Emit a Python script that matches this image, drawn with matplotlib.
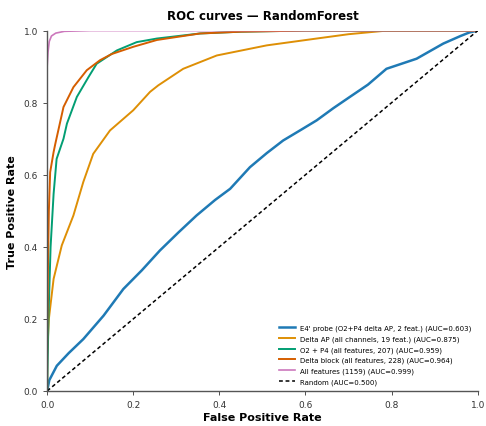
import matplotlib.pyplot as plt
import numpy as np

# ROC points (FPR, TPR)
probe_fpr = [0, 0.005, 0.0225, 0.05, 0.084, 0.131, 0.177, 0.22, 0.262, 0.305, 0.347, 0.39,
             0.425, 0.471, 0.51, 0.548, 0.59, 0.626, 0.665, 0.703, 0.745, 0.788, 0.858,
             0.92, 0.96, 0.981, 1.0]
probe_tpr = [0, 0.03, 0.07, 0.105, 0.144, 0.209, 0.283, 0.335, 0.39, 0.44, 0.487, 0.53,
             0.561, 0.621, 0.66, 0.695, 0.725, 0.751, 0.785, 0.816, 0.85, 0.894, 0.922,
             0.964, 0.985, 0.995, 1.0]

deltaap_fpr = [0, 0.0, 0.004, 0.015, 0.034, 0.061, 0.084, 0.107, 0.146, 0.2, 0.239, 0.258,
               0.316, 0.394, 0.51, 0.626, 0.7, 0.78, 1.0]
deltaap_tpr = [0, 0.1, 0.2, 0.311, 0.404, 0.487, 0.58, 0.658, 0.723, 0.779, 0.83, 0.848,
               0.894, 0.931, 0.959, 0.978, 0.99, 0.999, 1.0]

o2p4_fpr = [0, 0.003, 0.008, 0.015, 0.022, 0.026, 0.038, 0.046, 0.069, 0.096, 0.115, 0.162,
            0.208, 0.255, 0.355, 0.45, 0.6, 1.0]
o2p4_tpr = [0, 0.2, 0.4, 0.547, 0.644, 0.658, 0.7, 0.742, 0.816, 0.871, 0.908, 0.945,
            0.968, 0.978, 0.992, 0.997, 1.0, 1.0]

delta_fpr = [0, 0.0, 0.002, 0.004, 0.007, 0.015, 0.019, 0.038, 0.061, 0.092, 0.123, 0.15,
             0.2, 0.255, 0.355, 0.45, 0.6, 1.0]
delta_tpr = [0, 0.1, 0.35, 0.5, 0.607, 0.663, 0.686, 0.788, 0.843, 0.89, 0.918, 0.935,
             0.955, 0.974, 0.992, 0.997, 1.0, 1.0]

all_fpr = [0, 0.0, 0.002, 0.005, 0.01, 0.02, 0.04, 0.1, 1.0]
all_tpr = [0, 0.9, 0.94, 0.97, 0.985, 0.993, 0.998, 1.0, 1.0]

labels = [
    "E4' probe (O2+P4 delta AP, 2 feat.) (AUC=0.603)",
    "Delta AP (all channels, 19 feat.) (AUC=0.875)",
    "O2 + P4 (all features, 207) (AUC=0.959)",
    "Delta block (all features, 228) (AUC=0.964)",
    "All features (1159) (AUC=0.999)",
]
colors = ["#1f7ab5", "#de8f05", "#029e73", "#d55e00", "#cc78bc"]
widths = [1.8, 1.4, 1.4, 1.4, 1.2]

curves = [
    (probe_fpr, probe_tpr),
    (deltaap_fpr, deltaap_tpr),
    (o2p4_fpr, o2p4_tpr),
    (delta_fpr, delta_tpr),
    (all_fpr, all_tpr),
]

fig = plt.figure(figsize=(4.86, 4.27), dpi=100)
ax = fig.add_axes([0.097, 0.082, 0.886, 0.844])

for (fpr, tpr), lab, col, lw in zip(curves, labels, colors, widths):
    ax.plot(fpr, tpr, color=col, linewidth=lw, label=lab)
ax.plot([0, 1], [0, 1], color="black", linestyle=(0, (2.5, 1.8)), linewidth=1.1,
        label="Random (AUC=0.500)")

ax.set_xlim(0, 1)
ax.set_ylim(0, 1)
ax.set_xticks(np.arange(0, 1.01, 0.2))
ax.set_yticks(np.arange(0, 1.01, 0.2))
ax.tick_params(labelsize=6.5, length=3, width=0.6, colors="#333333")
for side in ["top", "right"]:
    ax.spines[side].set_visible(False)
for side in ["left", "bottom"]:
    ax.spines[side].set_color("#555555")
    ax.spines[side].set_linewidth(1.0)

ax.set_xlabel("False Positive Rate", fontsize=8, fontweight="bold", labelpad=2)
ax.set_ylabel("True Positive Rate", fontsize=8, fontweight="bold", labelpad=5)
ax.set_title("ROC curves — RandomForest", fontsize=8.5, fontweight="bold", pad=8)
ax.legend(loc="lower right", fontsize=5, frameon=False, handlelength=2.2,
          labelspacing=0.6)

fig.savefig("out.png", dpi=100)
